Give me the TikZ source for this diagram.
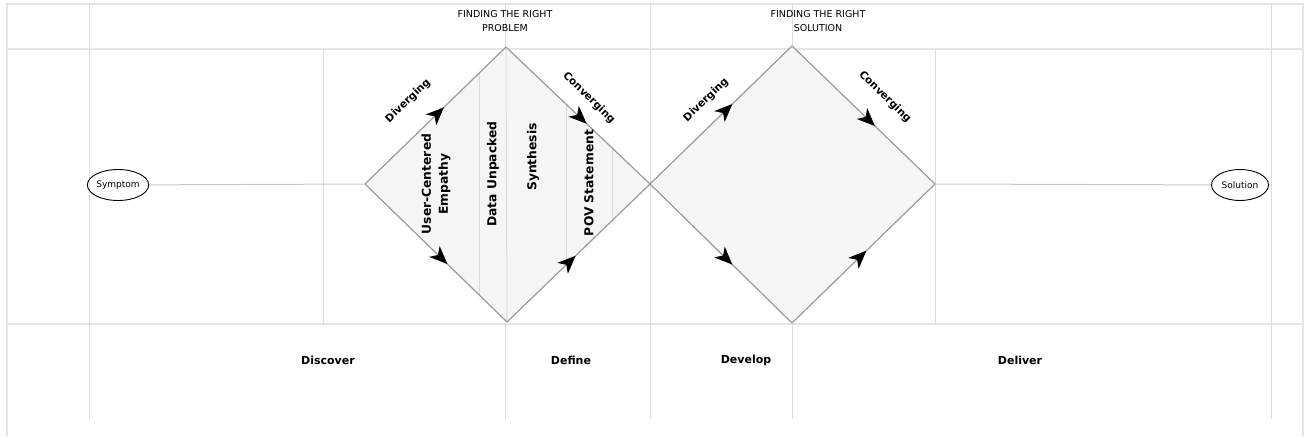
\documentclass[tikz,border=0pt]{standalone}
\usepackage{fontspec}
\setmainfont{DejaVu Sans}
\usepackage{tikz}
\usetikzlibrary{positioning}
\usetikzlibrary{decorations}
\usetikzlibrary{decorations.markings}
\usetikzlibrary{shapes.geometric,arrows.meta}
\definecolor{framegray}{HTML}{E6E6E6}
\definecolor{gridgray}{HTML}{DCDCDC}
\definecolor{edgegray}{HTML}{9A9A9A}
\definecolor{linkgray}{HTML}{C8C8C8}
\definecolor{fillgray}{HTML}{F6F6F6}
\tikzset{
  frameline/.style={draw=framegray,line width=1.6pt},
  gridline/.style={draw=gridgray,line width=1pt},
  diamond edge/.style={draw=edgegray,line width=1.2pt},
  flowarrow/.style={postaction={decorate},decoration={markings,
      mark=at position #1 with {\arrow{Stealth[length=18pt,width=15pt,inset=5pt,color=black]}}}},
  endpoint/.style={shape=ellipse,draw=black,line width=0.9pt,minimum width=57pt,
      minimum height=31pt,inner sep=0,font=\fontsize{9}{10}\selectfont},
  link/.style={draw=linkgray,line width=1pt},
  phase/.style={font=\fontsize{11}{12}\selectfont\bfseries},
  colhead/.style={rotate=90,align=center,font=\fontsize{12.3}{17}\selectfont\bfseries},
  flowlabel/.style={font=\fontsize{10.5}{11}\selectfont\bfseries},
  header/.style={align=center,font=\fontsize{9.5}{14}\selectfont}
}

\begin{document}
\begin{tikzpicture}[x=1pt,y=-1pt]
  \useasboundingbox (0,0) rectangle (1308,436);
  % table frame
  \draw[frameline] (7,436) -- (7,4) -- (1303,4) -- (1303,436);
  \draw[frameline] (7,49) -- (1303,49);
  \draw[frameline] (7,324) -- (1303,324);
  \foreach \x in {89,650,1271}
    \draw[gridline] (\x,4) -- (\x,419);
  \foreach \x in {505,792} {
    \draw[gridline] (\x,4) -- (\x,49);
    \draw[gridline] (\x,324) -- (\x,419);
  }
  \foreach \x in {323,935}
    \draw[gridline] (\x,49) -- (\x,324);

  % diamond corners
  \coordinate (p1l) at (365,184);
  \coordinate (p1t) at (506,47);
  \coordinate (p1r) at (650,184);
  \coordinate (p1b) at (507,322);
  \coordinate (s2t) at (792,46);
  \coordinate (s2r) at (935,184);
  \coordinate (s2b) at (792,323);

  \fill[fillgray] (p1l) -- (p1t) -- (p1r) -- (p1b) -- cycle;
  \fill[fillgray] (p1r) -- (s2t) -- (s2r) -- (s2b) -- cycle;
  \begin{scope}
    \clip (p1l) -- (p1t) -- (p1r) -- (p1b) -- cycle;
    \foreach \x in {479,566,612}
      \draw[gridline] (\x,40) -- (\x,330);
    \draw[gridline] (p1t) -- (p1b);
  \end{scope}

  \draw[diamond edge,flowarrow=0.56] (p1l) -- (p1t);
  \draw[diamond edge,flowarrow=0.56] (p1t) -- (p1r);
  \draw[diamond edge,flowarrow=0.58] (p1l) -- (p1b);
  \draw[diamond edge,flowarrow=0.48] (p1b) -- (p1r);
  \draw[diamond edge,flowarrow=0.58] (p1r) -- (s2t);
  \draw[diamond edge,flowarrow=0.58] (s2t) -- (s2r);
  \draw[diamond edge,flowarrow=0.58] (p1r) -- (s2b);
  \draw[diamond edge,flowarrow=0.52] (s2b) -- (s2r);

  % start and end
  \node[endpoint] (symptom) at (118,185) {Symptom};
  \node[endpoint] (solution) at (1240,185) {Solution};
  \draw[link] (symptom) -- (p1l);
  \draw[link] (s2r) -- (solution);

  % texts
  \node[header] (probhead) at (505,21) {FINDING THE RIGHT\\PROBLEM};
  \node[header] (solhead) at (818,21) {FINDING THE RIGHT\\SOLUTION};
  \node[colhead] (empathy) at (436,184) {User-Centered\\Empathy};
  \node[colhead] (unpacked) at (493,174) {Data Unpacked};
  \node[colhead] (synthesis) at (533,157) {Synthesis};
  \node[colhead] (pov) at (589,183) {POV Statement};
  \node[flowlabel,rotate=44] (div1) at (408,101) {Diverging};
  \node[flowlabel,rotate=-44] (conv1) at (589,98) {Converging};
  \node[flowlabel,rotate=44] (div2) at (706,100) {Diverging};
  \node[flowlabel,rotate=-44] (conv2) at (885,97) {Converging};
  \node[phase] (discover) at (328,360) {Discover};
  \node[phase] (define) at (571,360) {Define};
  \node[phase] (develop) at (746,360) {Develop};
  \node[phase] (deliver) at (1020,360) {Deliver};
\end{tikzpicture}
\end{document}
